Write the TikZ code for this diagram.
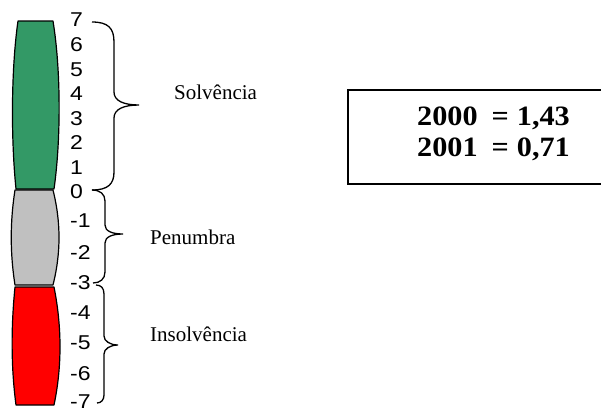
\documentclass[tikz,border=0pt]{standalone}
\usepackage{fontspec}
\setmainfont{Liberation Serif}
\newfontfamily\scalefont[FakeStretch=1.15]{Liberation Sans}
\newfontfamily\ratiofont[FakeStretch=1.08]{Liberation Serif}
\usetikzlibrary{positioning}
\definecolor{solvgreen}{RGB}{51,153,102}
\definecolor{penugray}{RGB}{192,192,192}
\definecolor{insolred}{RGB}{255,0,0}
\tikzset{
  every node/.style={
    inner sep=0pt
  },
  zone/.style={draw=black, line width=1.2pt, line join=round},
  tick/.style={anchor=west, font=\scalefont\fontsize{20}{20}\selectfont},
  curly/.style={draw=black, line width=1.3pt},
  zonelabel/.style={anchor=base west, font=\fontsize{21}{21}\selectfont},
  ratio/.style={anchor=west, font=\ratiofont\bfseries\fontsize{28}{28}\selectfont}
}

\begin{document}
\begin{tikzpicture}[x=1pt,y=-1pt]
      \useasboundingbox (0,0) rectangle (601,407);
      \clip (0,0) rectangle (601,407);
      % the three zones of the scale
      \draw[zone, fill=solvgreen] (18,21) -- (53,21) .. controls (61,70) and (61,140) .. (54,189)
        -- (16,189) .. controls (11,140) and (11,70) .. cycle;
      \draw[zone, fill=penugray] (15,190) -- (53,190) .. controls (61,222) and (61,253) .. (53,285)
        -- (15,285) .. controls (10,253) and (10,222) .. cycle;
      \draw[zone, fill=insolred] (15,287) -- (54,287) .. controls (62,327) and (62,367) .. (54,405)
        -- (16,405) .. controls (11,367) and (11,327) .. cycle;

      \foreach \val/\ypos in {7/19.5,6/44.5,5/69.5,4/94,3/119,2/143,1/168,0/191.5,
        -1/221,-2/253,-3/282.5,-4/312.5,-5/343,-6/374,-7/402}
        \node[tick] (n\val) at (70,\ypos) {\val};

      % braces
      \coordinate (SolTip) at (139,105);
      \coordinate (PenTip) at (123,234);
      \coordinate (InsTip) at (118,345);
      \draw[curly] (92,22) .. controls (108,22) and (114,28) .. (114,42) -- (114,92)
        .. controls (114,101) and (124,105) .. (SolTip)
        .. controls (124,105) and (114,109) .. (114,118) -- (114,172)
        .. controls (114,184) and (108,190) .. (92,190);
      \draw[curly] (92,190) .. controls (100,190) and (105,194) .. (105,201) -- (105,225)
        .. controls (105,231) and (112,234) .. (PenTip)
        .. controls (112,234) and (105,237) .. (105,243) -- (105,272)
        .. controls (105,279) and (100,283) .. (93,283);
      \draw[curly] (96,285) .. controls (101,285) and (104,288) .. (104,294) -- (104,336)
        .. controls (104,341) and (110,345) .. (InsTip)
        .. controls (110,345) and (104,349) .. (104,354) -- (104,395)
        .. controls (104,400) and (101,403) .. (97,403);

      \node[zonelabel] (Solv) at (174,99.3) {Solvência};
      \node[zonelabel] (Penu) at (150,244) {Penumbra};
      \node[zonelabel] (Insol) at (150,341) {Insolvência};

      % result box
      \node[draw, line width=1.5pt, anchor=north west, minimum width=300pt,
        minimum height=94pt] (RatioBox) at (347,89) {};
      \node[ratio] (Y2000) at (417,118.5) {2000\hspace{14pt}=\hspace{8pt}1,43};
      \node[ratio] (Y2001) at (417,149.5) {2001\hspace{14pt}=\hspace{8pt}0,71};
    \end{tikzpicture}
\end{document}
